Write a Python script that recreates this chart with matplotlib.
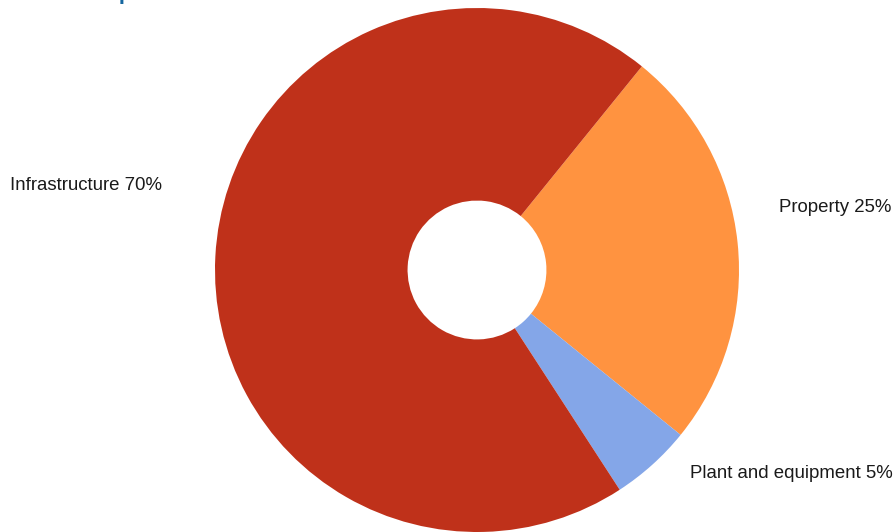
import matplotlib
matplotlib.use("Agg")
import matplotlib.pyplot as plt

# Invested capital by asset class
categories = ["Property", "Plant and equipment", "Infrastructure"]
shares = [25, 5, 70]
colors = ["#FF9340", "#84A6E8", "#BF311A"]

title = "Invested capital at 30 June 2015"

W, H = 894, 532
fig = plt.figure(figsize=(W / 100, H / 100), dpi=100)
ax = fig.add_axes([0, 0, 1, 1])

plt.rcParams["font.family"] = ["Liberation Sans", "DejaVu Sans"]

cx, cy, r = 477, 262, 262
ax.pie(shares, colors=colors, startangle=51, counterclock=False,
       center=(cx, cy), radius=r, frame=True,
       wedgeprops=dict(width=r * 0.735, linewidth=0))
ax.set_xlim(0, W)
ax.set_ylim(0, H)
ax.set_aspect("equal")
ax.axis("off")

label_pos = {
    "Property": (779, 324, "left"),
    "Plant and equipment": (893, 59, "right"),
    "Infrastructure": (10, 346, "left"),
}
for name, val in zip(categories, shares):
    x, y, ha = label_pos[name]
    ax.text(x, y, f"{name} {val}%", ha=ha, va="center", fontsize=13.4,
            color="#1a1a1a", family=["Liberation Sans", "DejaVu Sans"])

ax.text(-2, 533, title, ha="left", va="baseline", fontsize=16, fontweight="bold",
        color="#1667A0", family=["Liberation Sans", "DejaVu Sans"], clip_on=False)

fig.savefig("out.png", dpi=100)
